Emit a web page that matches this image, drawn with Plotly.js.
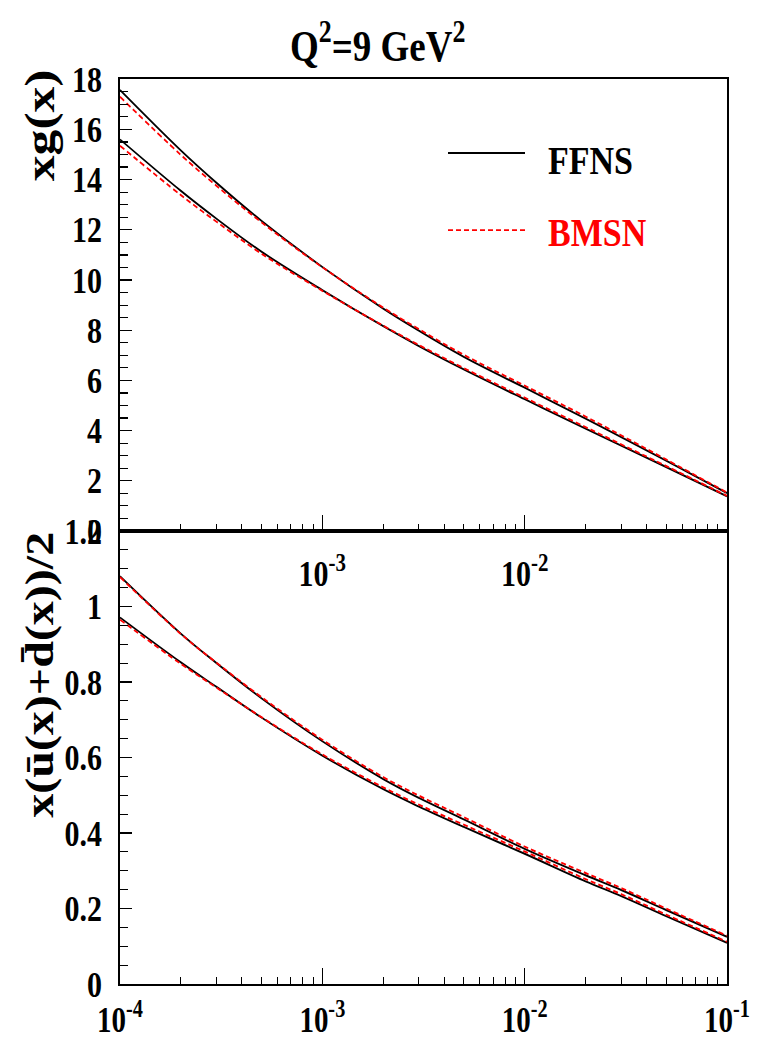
<!DOCTYPE html>
<html><head><meta charset="utf-8">
<script src="https://cdn.plot.ly/plotly-3.0.1.min.js"></script>
<style>
html,body{margin:0;padding:0;background:#fff;overflow:hidden;}
#wrap{width:760px;height:1044px;overflow:hidden;}
#chart{width:760px;height:870px;transform:scaleY(1.2);transform-origin:0 0;}
</style></head><body><div id="wrap"><div id="chart"></div></div>
<script>
// x values (momentum fraction)
const xValues = [1e-4, 2e-4, 3e-4, 5e-4, 1e-3, 2e-3, 3e-3, 5e-3, 1e-2, 2e-2, 3e-2, 5e-2, 1e-1];

// gluon xg(x), two curves per scheme
const xgFFNS_upper = [17.57, 15.16, 13.87, 12.36, 10.52, 8.86, 7.98, 6.94, 5.71, 4.48, 3.74, 2.80, 1.51];
const xgFFNS_lower = [15.60, 13.55, 12.44, 11.13, 9.60, 8.16, 7.37, 6.44, 5.25, 4.08, 3.40, 2.55, 1.38];
const xgBMSN_upper = [17.30, 14.98, 13.75, 12.30, 10.51, 8.90, 8.04, 7.02, 5.79, 4.56, 3.81, 2.85, 1.53];
const xgBMSN_lower = [15.35, 13.38, 12.32, 11.05, 9.57, 8.18, 7.41, 6.49, 5.31, 4.14, 3.45, 2.59, 1.40];

// sea x(ubar+dbar)/2
const seaFFNS_upper = [1.080, 0.928, 0.850, 0.757, 0.643, 0.543, 0.493, 0.436, 0.358, 0.288, 0.249, 0.196, 0.125];
const seaFFNS_lower = [0.971, 0.852, 0.787, 0.706, 0.605, 0.516, 0.470, 0.416, 0.345, 0.272, 0.233, 0.180, 0.109];
const seaBMSN_upper = [1.078, 0.927, 0.851, 0.760, 0.647, 0.548, 0.499, 0.442, 0.364, 0.294, 0.254, 0.200, 0.128];
const seaBMSN_lower = [0.965, 0.848, 0.785, 0.707, 0.608, 0.521, 0.475, 0.422, 0.351, 0.278, 0.238, 0.184, 0.112];

const seriesNames = ['FFNS', 'BMSN'];
const topTickVals = [1e-3, 1e-2];
const topTickText = ['10<sup>-3</sup>', '10<sup>-2</sup>'];
const bottomTickVals = [1e-4, 1e-3, 1e-2, 1e-1];
const bottomTickText = ['10<sup>-4</sup>', '10<sup>-3</sup>', '10<sup>-2</sup>', '10<sup>-1</sup>'];
const titleText = 'Q<sup>2</sup>=9 GeV<sup>2</sup>';
const yTitleTop = 'xg(x)';
const yTitleBottom = 'x(\u016B(x)+d\u0304(x))/2';

const minorX = [];
[-4, -3, -2].forEach(d => { for (let m = 2; m <= 9; m++) minorX.push(m * Math.pow(10, d)); });

const FONT = 'Liberation Serif';
const ffnsLine = {color: '#000000', width: 1.6};
const bmsnLine = {color: '#ff0000', width: 1.6, dash: '5px,3px'};

function tr(y, name, line, xa, ya) {
  return {x: xValues, y: y, name: name, mode: 'lines', line: Object.assign({shape: 'spline', smoothing: 1}, line),
          xaxis: xa, yaxis: ya, showlegend: false, hoverinfo: 'skip'};
}

const data = [
  tr(xgFFNS_upper, seriesNames[0], ffnsLine, 'x', 'y'),
  tr(xgFFNS_lower, seriesNames[0], ffnsLine, 'x', 'y'),
  tr(xgBMSN_upper, seriesNames[1], bmsnLine, 'x', 'y'),
  tr(xgBMSN_lower, seriesNames[1], bmsnLine, 'x', 'y'),
  tr(seaFFNS_upper, seriesNames[0], ffnsLine, 'x2', 'y2'),
  tr(seaFFNS_lower, seriesNames[0], ffnsLine, 'x2', 'y2'),
  tr(seaBMSN_upper, seriesNames[1], bmsnLine, 'x2', 'y2'),
  tr(seaBMSN_lower, seriesNames[1], bmsnLine, 'x2', 'y2')
];

const H = 870, T = 66, B = 50;
const plotH = H - T - B; // 754
const split = (820 - 442.5) / plotH;
function py(p) { return (820 - p) / plotH; }   // unstretched pixel -> paper y
function px(p) { return (p - 120) / 607; }     // pixel -> paper x

const tickFont = {family: FONT, size: 30, color: '#000', weight: 'bold'};
const xCommon = {
  type: 'log', range: [-4, -1], showline: true, linewidth: 2, linecolor: '#000', mirror: true,
  ticks: 'inside', ticklen: 13, tickwidth: 1, tickcolor: '#000', showgrid: false, zeroline: false,
  tickmode: 'array', tickfont: tickFont, ticklabelstandoff: 8,
  minor: {tickmode: 'array', tickvals: minorX, ticks: 'inside', ticklen: 6, tickwidth: 1, tickcolor: '#000', showgrid: false}
};
const yCommon = {
  showline: true, linewidth: 2, linecolor: '#000', mirror: true, ticks: 'inside', ticklen: 12,
  tickwidth: 1, tickcolor: '#000', showgrid: false, zeroline: false, tickfont: tickFont, ticklabelstandoff: 10,
  tickmode: 'linear', tick0: 0
};

const layout = {
  width: 760, height: H,
  margin: {l: 120, r: 33, t: T, b: B},
  paper_bgcolor: '#ffffff', plot_bgcolor: '#ffffff',
  showlegend: false,
  font: {family: FONT, color: '#000', weight: 'bold'},
  title: {text: titleText, x: 0.497, xanchor: 'center', xref: 'container', y: 1 - 37.5 / H, yanchor: 'middle', yref: 'container',
          font: {family: FONT, size: 37, color: '#000', weight: 'bold'}},
  xaxis: Object.assign({}, xCommon, {anchor: 'y', domain: [0, 1], tickvals: topTickVals, ticktext: topTickText}),
  yaxis: Object.assign({}, yCommon, {anchor: 'x', domain: [split, 1], range: [0, 18], dtick: 2,
          minor: {dtick: 0.5, tick0: 0, ticks: 'inside', ticklen: 8, tickwidth: 1, tickcolor: '#000', showgrid: false}}),
  xaxis2: Object.assign({}, xCommon, {anchor: 'y2', domain: [0, 1], tickvals: bottomTickVals, ticktext: bottomTickText,
          ticklabelstandoff: 3, tickfont: {family: FONT, size: 29, color: '#000', weight: 'bold'}}),
  yaxis2: Object.assign({}, yCommon, {anchor: 'x2', domain: [0, split], range: [0, 1.2], dtick: 0.2,
          minor: {dtick: 0.05, tick0: 0, ticks: 'inside', ticklen: 8, tickwidth: 1, tickcolor: '#000', showgrid: false}}),
  annotations: [
    {text: yTitleTop, xref: 'paper', yref: 'paper', x: px(40), y: py(105), textangle: -90, showarrow: false,
     xanchor: 'center', yanchor: 'middle', font: {family: FONT, size: 43, color: '#000', weight: 'bold'}},
    {text: yTitleBottom, xref: 'paper', yref: 'paper', x: px(40), y: py(562.5), textangle: -90, showarrow: false,
     xanchor: 'center', yanchor: 'middle', font: {family: FONT, size: 40, color: '#000', weight: 'bold'}},
    {text: seriesNames[0], xref: 'paper', yref: 'paper', x: px(546), y: py(133.3), showarrow: false,
     xanchor: 'left', yanchor: 'middle', font: {family: FONT, size: 34, color: '#000', weight: 'bold'}},
    {text: seriesNames[1], xref: 'paper', yref: 'paper', x: px(546), y: py(193.3), showarrow: false,
     xanchor: 'left', yanchor: 'middle', font: {family: FONT, size: 34, color: '#ff0000', weight: 'bold'}}
  ],
  shapes: [
    {type: 'line', xref: 'paper', yref: 'paper', x0: px(448), x1: px(525), y0: py(127.5), y1: py(127.5), line: {color: '#000', width: 1.5}},
    {type: 'line', xref: 'paper', yref: 'paper', x0: px(448), x1: px(525), y0: py(191.7), y1: py(191.7), line: {color: '#ff0000', width: 1.5, dash: '5px,3px'}}
  ]
};

Plotly.newPlot('chart', data, layout, {staticPlot: true, displayModeBar: false});
</script></body></html>
